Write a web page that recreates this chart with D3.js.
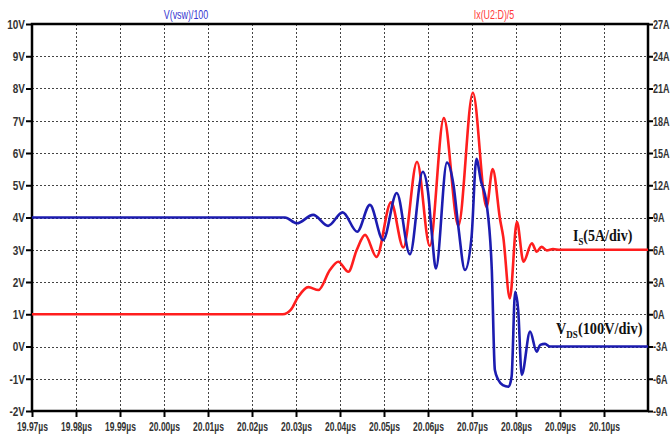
<!DOCTYPE html>
<html><head><meta charset="utf-8">
<script src="https://cdn.jsdelivr.net/npm/d3@7"></script>
<style>
body{margin:0;background:#fff;}
text{font-family:"Liberation Sans","Arial",sans-serif;}
</style></head>
<body><svg id="c" width="671" height="437"></svg>
<script>
// ---- data ----
const xTicks = [19.97,19.98,19.99,20.00,20.01,20.02,20.03,20.04,20.05,20.06,20.07,20.08,20.09,20.10];
const vTicks = [-2,-1,0,1,2,3,4,5,6,7,8,9,10];
const aTicks = [-9,-6,-3,0,3,6,9,12,15,18,21,24,27];
// V(vsw)/100 : time (µs), value (V)
const vT = [19.97,20.0275,20.0302,20.0339,20.0373,20.0406,20.0439,20.0468,20.0498,20.0529,20.0559,20.0588,20.0600,20.0608,20.0618,20.0643,20.0658,20.0669,20.0684,20.0699,20.0710,20.0720,20.0733,20.0745,20.0752,20.0760,20.0770,20.0783,20.0790,20.0798,20.0805,20.0813,20.0832,20.0847,20.0855,20.0866,20.0877,20.11];
const vV = [4.0,4.0,3.82,4.08,3.74,4.16,3.56,4.39,3.30,4.76,2.86,5.42,4.8,3.6,2.42,5.70,5.0,3.71,2.37,3.40,5.82,5.15,4.44,2.37,-0.73,-1.04,-1.2,-1.25,-0.94,1.70,1.13,-0.88,0.46,-0.16,0.05,0.08,0.0,0.0];
// Ix(U2:D)/5 : time (µs), value (A)
const iT = [19.97,20.0270,20.0288,20.0305,20.0328,20.0351,20.0377,20.0396,20.0419,20.0438,20.0457,20.0483,20.0516,20.0544,20.0575,20.0604,20.0636,20.0669,20.0702,20.0733,20.0747,20.0764,20.0771,20.0786,20.0802,20.0817,20.0836,20.0847,20.0858,20.0870,20.0884,20.0900,20.11];
const iA = [0,0,0.4,1.62,2.52,2.25,4.11,4.89,3.96,5.97,7.38,5.34,10.41,6.21,14.19,6.36,18.24,8.25,20.61,9.99,13.5,8.76,7.2,1.47,8.61,4.89,6.6,5.82,6.27,5.94,6.06,6,6];

// ---- layout ----
const L=32, R=648, T=24, B=411;
const svg = d3.select("#c");
const x = d3.scaleLinear().domain([19.97,20.11]).range([L,R]);
const yV = d3.scaleLinear().domain([-2,10]).range([B,T]);
const yA = d3.scaleLinear().domain([-9,27]).range([B,T]);

// horizontally squeeze a text about its own x anchor
function squeeze(sel, f){
  sel.each(function(){
    const t = d3.select(this);
    const x0 = +t.attr("x") || 0;
    t.attr("x", x0/f).attr("transform", `scale(${f},1)`);
  });
}

// grid
const g = svg.append("g").attr("stroke","#444").attr("stroke-width",1).attr("stroke-dasharray","2,2");
g.selectAll(".gv").data(xTicks.slice(1)).join("line")
  .attr("x1",d=>Math.round(x(d))+0.5).attr("x2",d=>Math.round(x(d))+0.5).attr("y1",T).attr("y2",B);
g.selectAll(".gh").data(vTicks.slice(1,-1)).join("line")
  .attr("y1",d=>Math.round(yV(d))+0.5).attr("y2",d=>Math.round(yV(d))+0.5).attr("x1",L).attr("x2",R);

// axes
function styleAxis(f){
  return function(sel){
    sel.select(".domain").remove();
    sel.selectAll(".tick line").attr("stroke","#000").attr("stroke-width",2);
    sel.selectAll(".tick text").attr("fill","#333").style("font-size","13.5px").style("font-weight","bold")
      .call(squeeze, f);
  };
}
svg.append("g").attr("transform",`translate(${L},0)`)
  .call(d3.axisLeft(yV).tickValues(vTicks).tickFormat(d=>d+"V").tickSize(6).tickPadding(1)).call(styleAxis(0.74));
svg.append("g").attr("transform",`translate(${R},0)`)
  .call(d3.axisRight(yA).tickValues(aTicks).tickFormat(d=>d+"A").tickSize(5).tickPadding(0)).call(styleAxis(0.67));
svg.append("g").attr("transform",`translate(0,${B})`)
  .call(d3.axisBottom(x).tickValues(xTicks).tickFormat(d=>d.toFixed(2)+"µs").tickSize(6).tickPadding(4)).call(styleAxis(0.63));

// frame
svg.append("rect").attr("x",L).attr("y",T).attr("width",R-L).attr("height",B-T)
  .attr("fill","none").attr("stroke","#000").attr("stroke-width",2.5);

// traces
const vData = vT.map((t,i)=>[t,vV[i]]);
const iData = iT.map((t,i)=>[t,iA[i]]);
const lineV = d3.line().x(d=>x(d[0])).y(d=>yV(d[1])).curve(d3.curveMonotoneX);
const lineA = d3.line().x(d=>x(d[0])).y(d=>yA(d[1])).curve(d3.curveMonotoneX);
svg.append("path").datum(iData).attr("d",lineA).attr("fill","none").attr("stroke","#ff1e1e").attr("stroke-width",2.6).attr("stroke-linejoin","round");
svg.append("path").datum(vData).attr("d",lineV).attr("fill","none").attr("stroke","#1c1cb0").attr("stroke-width",2.6).attr("stroke-linejoin","round");

// titles
svg.append("text").attr("transform","translate(186,19) scale(0.66,1)").attr("text-anchor","middle").attr("fill","#3535d0").style("font-size","13.5px").text("V(vsw)/100");
svg.append("text").attr("transform","translate(494,19) scale(0.66,1)").attr("text-anchor","middle").attr("fill","#ff3a3a").style("font-size","13.5px").text("Ix(U2:D)/5");

// annotations
const ann1 = svg.append("text").attr("transform","translate(573,241) scale(0.8,1)").attr("fill","#111")
  .style("font-family","'Liberation Serif','Times New Roman',serif").style("font-size","17.5px").style("font-weight","bold");
ann1.append("tspan").text("I");
ann1.append("tspan").attr("dy",4).style("font-size","11px").text("S");
ann1.append("tspan").attr("dy",-4).text("(5A/div)");
const ann2 = svg.append("text").attr("transform","translate(556,334) scale(0.82,1)").attr("fill","#111")
  .style("font-family","'Liberation Serif','Times New Roman',serif").style("font-size","17.5px").style("font-weight","bold");
ann2.append("tspan").text("V");
ann2.append("tspan").attr("dy",4).style("font-size","11px").text("DS");
ann2.append("tspan").attr("dy",-4).text("(100V/div)");
</script></body></html>
